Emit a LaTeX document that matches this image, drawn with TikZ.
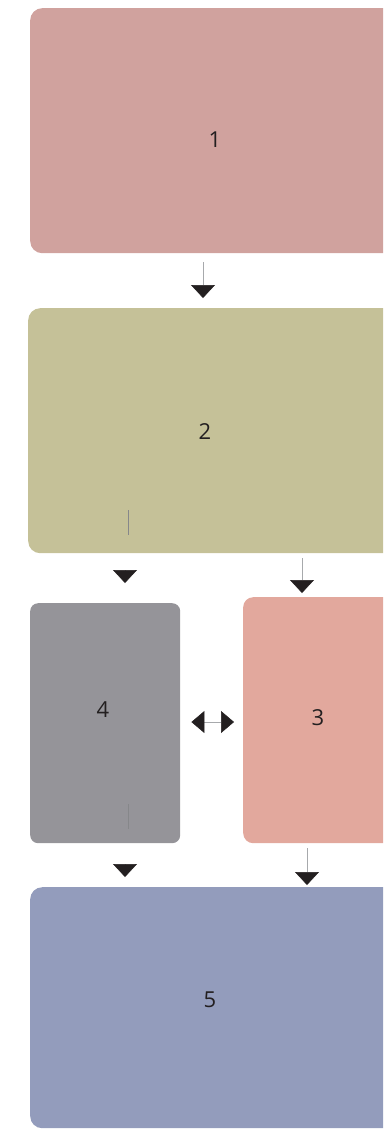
\documentclass[tikz,border=0pt]{standalone}
\usepackage{fontspec}
\setmainfont{Open Sans}
\usetikzlibrary{arrows.meta}
\definecolor{cA}{HTML}{D0A29E}
\definecolor{cB}{HTML}{C5C198}
\definecolor{cC}{HTML}{E2A89D}
\definecolor{cD}{HTML}{959499}
\definecolor{cE}{HTML}{939CBC}
\definecolor{ink}{HTML}{231F20}
\definecolor{thin}{HTML}{A7A9AC}
\tikzset{
  box/.style={rectangle, rounded corners=12pt, draw=none, inner sep=0pt, anchor=north west},
  lbl/.style={text=ink, font=\fontsize{22}{26}\selectfont, inner sep=0pt},
  conn/.style={draw=thin, line width=0.5pt, -{Triangle[length=13pt,width=24pt,color=ink]}},
  dconn/.style={draw=thin, line width=0.5pt, {Triangle[length=13pt,width=22pt,color=ink]}-{Triangle[length=13pt,width=22pt,color=ink]}},
  tick/.style={draw=thin!80!black, line width=0.5pt}
}
\begin{document}
\begin{tikzpicture}[x=1pt,y=1pt]
\useasboundingbox (0,0) rectangle (383,-1130);
\clip (0,0) rectangle (383,-1130);
% boxes
\node[box, fill=cA, minimum width=365pt, minimum height=245pt] (b1) at (30,-8) {};
\node[box, fill=cB, minimum width=367pt, minimum height=245pt] (b2) at (28,-308) {};
\node[box, fill=cD, rounded corners=8pt, minimum width=150pt, minimum height=240pt] (b4) at (30,-603) {};
\node[box, fill=cC, rounded corners=10pt, minimum width=152pt, minimum height=246pt] (b3) at (243,-597) {};
\node[box, fill=cE, minimum width=365pt, minimum height=241pt] (b5) at (30,-887) {};
% labels
\node[lbl] (t1) at (215,-140) {1};
\node[lbl] (t2) at (205,-432) {2};
\node[lbl] (t4) at (103,-710) {4};
\node[lbl] (t3) at (318,-718) {3};
\node[lbl] (t5) at (210,-1000) {5};
% column references
\coordinate (x203) at (203,0);
\coordinate (x125) at (125,0);
\coordinate (x302) at (302,0);
\coordinate (x307) at (307,0);
\coordinate (y722) at (0,-722);
% connectors
\draw[conn, shorten <=9pt, shorten >=10pt] (b1.south -| x203) -- (b2.north -| x203);
\draw[conn, shorten <=17pt, shorten >=20pt] (b2.south -| x125) -- (b4.north -| x125);
\draw[conn, shorten <=5pt, shorten >=4pt] (b2.south -| x302) -- (b3.north -| x302);
\draw[dconn, shorten <=11pt, shorten >=9pt] (b4.east |- y722) -- (b3.west |- y722);
\draw[conn, shorten <=21pt, shorten >=10pt] (b4.south -| x125) -- (b5.north -| x125);
\draw[conn, shorten <=5pt, shorten >=2pt] (b3.south -| x307) -- (b5.north -| x307);
% stray thin marks
\coordinate (m1a) at (128,-510);
\coordinate (m1b) at (128,-535);
\coordinate (m2a) at (128,-804);
\coordinate (m2b) at (128,-829);
\draw[tick] (m1a) -- (m1b);
\draw[tick] (m2a) -- (m2b);
\end{tikzpicture}
\end{document}
